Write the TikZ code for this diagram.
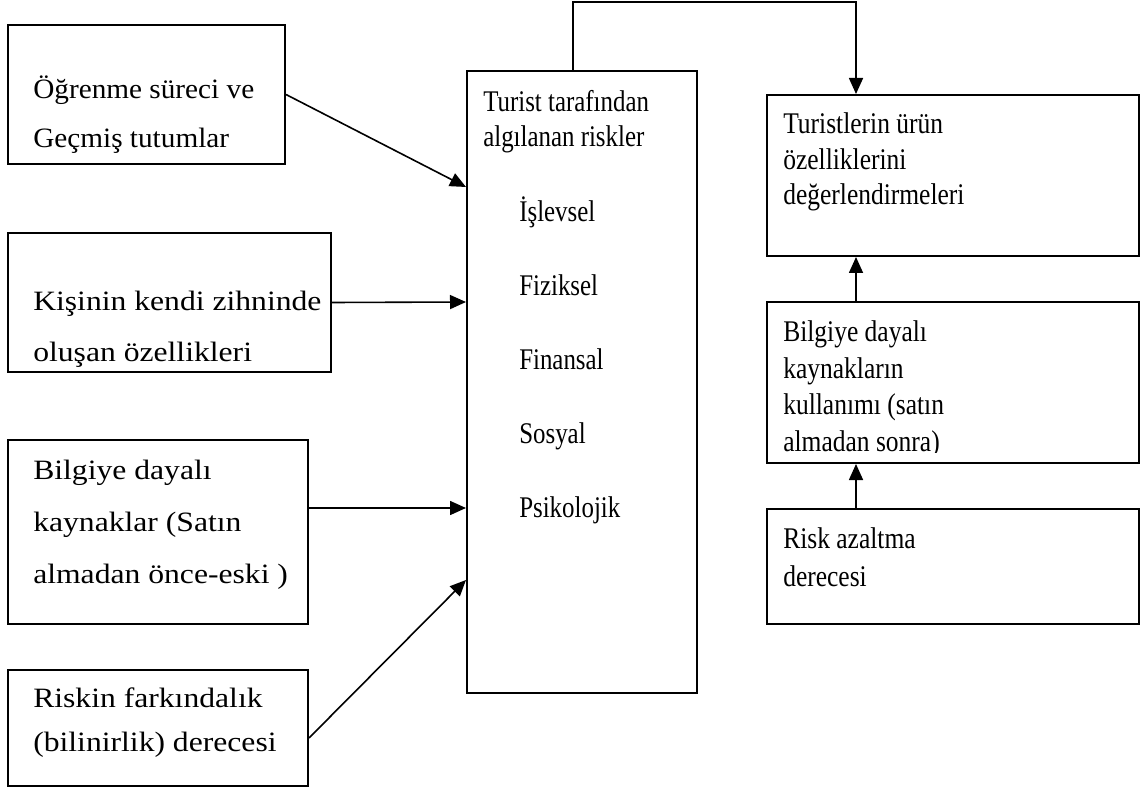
\documentclass[tikz,border=0pt]{standalone}
\usepackage{fontspec}
\setmainfont{Liberation Serif}
\newfontfamily\leftfont[FakeStretch=1.13]{Liberation Serif}
\newfontfamily\firstfont[FakeStretch=1.045]{Liberation Serif}
\newfontfamily\midfont[FakeStretch=0.83]{Liberation Serif}
\newfontfamily\rightfont[FakeStretch=0.85]{Liberation Serif}
\usetikzlibrary{arrows.meta}

\tikzset{
  box/.style={draw, rectangle, line width=1.5pt, inner sep=0pt},
  txt/.style={anchor=base west, inner sep=0pt},
  arr/.style={line width=1.2pt, -{Triangle[length=12pt,width=10.5pt]}},
  lefttxt/.style={txt, font={\leftfont\fontsize{21}{25}\selectfont}},
  firsttxt/.style={txt, font={\firstfont\fontsize{21}{25}\selectfont}},
  midtxt/.style={txt, font={\midfont\fontsize{22.5}{27}\selectfont}},
  righttxt/.style={txt, font={\rightfont\fontsize{22.5}{27}\selectfont}},
}

\begin{document}
\begin{tikzpicture}[x=0.75pt, y=-0.75pt]
  \useasboundingbox (0,0) rectangle (1141,787);
  \fill[white] (0,0) rectangle (1141,787);

  % left column: influencing factors
  \node[box, minimum width=207.75pt, minimum height=104.25pt] (A) at (146.5,94.5) {};
  \node[box, minimum width=242.25pt, minimum height=104.25pt] (B) at (169.5,302.5) {};
  \node[box, minimum width=225pt, minimum height=138pt] (C) at (158,532) {};
  \node[box, minimum width=225pt, minimum height=87pt] (D) at (158,728) {};

  \node[firsttxt] (A1) at (33,98.3)  {Öğrenme süreci ve};
  \node[firsttxt] (A2) at (33,147.8) {Geçmiş tutumlar};
  \node[lefttxt]  (B1) at (33,310.7) {Kişinin kendi zihninde};
  \node[lefttxt]  (B2) at (33,362)   {oluşan özellikleri};
  \node[lefttxt]  (C1) at (33,479)   {Bilgiye dayalı};
  \node[lefttxt]  (C2) at (33,531)   {kaynaklar (Satın};
  \node[lefttxt]  (C3) at (33,583)   {almadan önce-eski )};
  \node[lefttxt]  (D1) at (33,707.3) {Riskin farkındalık};
  \node[lefttxt]  (D2) at (33,751.7) {(bilinirlik) derecesi};

  % central box: perceived risks
  \node[box, minimum width=172.5pt, minimum height=466.5pt] (M) at (582,382) {};
  \node[midtxt] (M1) at (483,111.7) {Turist tarafından};
  \node[midtxt] (M2) at (483,146.7) {algılanan riskler};
  \node[midtxt] (R1) at (519,222)   {İşlevsel};
  \node[midtxt] (R2) at (519,295.7) {Fiziksel};
  \node[midtxt] (R3) at (519,369.5) {Finansal};
  \node[midtxt] (R4) at (519,443.2) {Sosyal};
  \node[midtxt] (R5) at (519,517)   {Psikolojik};

  % right column
  \node[box, minimum width=279pt, minimum height=120.75pt] (E) at (953,175.5) {};
  \node[box, minimum width=279pt, minimum height=120.75pt] (F) at (953,382.5) {};
  \node[box, minimum width=279pt, minimum height=86.25pt] (G) at (953,566.5) {};

  \node[righttxt] (E1) at (783,134)   {Turistlerin ürün};
  \node[righttxt] (E2) at (783,169.5) {özelliklerini};
  \node[righttxt] (E3) at (783,205)   {değerlendirmeleri};
  \node[righttxt] (F1) at (783,341.7) {Bilgiye dayalı};
  \node[righttxt] (F2) at (783,378.3) {kaynakların};
  \node[righttxt] (F3) at (783,415)   {kullanımı (satın};
  \begin{scope}
    \clip (F.north west) rectangle (F.east |- 0,452);
    \node[righttxt] (F4) at (783,451) {almadan sonra)};
  \end{scope}
  \node[righttxt] (G1) at (783,548.3) {Risk azaltma};
  \node[righttxt] (G2) at (783,586)   {derecesi};

  % connectors
  \draw[arr] (A.east) -- (M.west |- 0,187);
  \draw[arr] (B.east) -- (M.west |- 0,302);
  \draw[arr] (C.east |- 0,508) -- (M.west |- 0,508);
  \draw[arr] (D.east |- 0,738) -- (M.west |- 0,580);
  \draw[arr] (573,0 |- M.north) |- (856,2.2) -- (856,0 |- E.north);
  \draw[arr] (856,0 |- F.north) -- (856,0 |- E.south);
  \draw[arr] (856,0 |- G.north) -- (856,0 |- F.south);
\end{tikzpicture}
\end{document}
